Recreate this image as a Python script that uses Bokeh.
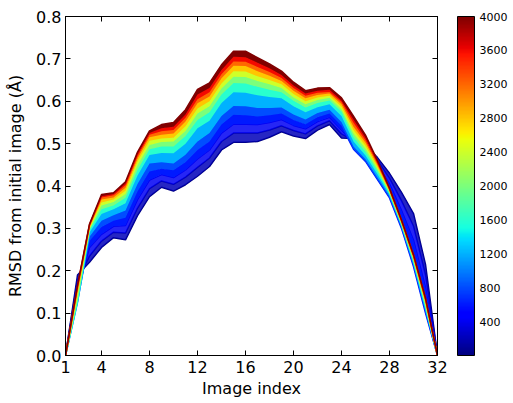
import numpy as np
from bokeh.plotting import figure
from bokeh.models import (Range1d, LinearAxis, FixedTicker, PrintfTickFormatter,
                          ColorBar, LinearColorMapper)
from bokeh.embed import file_html
from bokeh.resources import INLINE

# ---------------- data ----------------
image_index = [1, 2, 3, 4, 5, 6, 7, 8, 9, 10, 11, 12, 13, 14, 15, 16,
               17, 18, 19, 20, 21, 22, 23, 24, 25, 26, 27, 28, 29, 30, 31, 32]

iterations = [10, 200, 400, 600, 800, 1200, 1600, 2000, 2400, 2800, 3200, 3600, 4000]

rmsd_it10 = [0, .190, .220, .255, .278, .273, .330, .375, .397, .388, .403, .423, .446, .485, .503, .503,
             .505, .515, .528, .518, .512, .532, .545, .513, .512, .497, .467, .430, .385, .335, .215, 0]
rmsd_it200 = [0, .178, .235, .270, .291, .289, .348, .394, .412, .404, .421, .444, .466, .505, .525, .525,
              .525, .532, .542, .531, .523, .542, .554, .523, .508, .490, .460, .418, .365, .305, .190, 0]
rmsd_it400 = [0, .155, .255, .286, .305, .307, .368, .414, .427, .420, .438, .464, .485, .525, .546, .546,
              .545, .550, .557, .543, .535, .552, .562, .532, .503, .482, .450, .405, .342, .272, .160, 0]
rmsd_it600 = [0, .140, .270, .303, .318, .325, .387, .434, .441, .437, .456, .485, .505, .545, .568, .567,
              .564, .567, .571, .556, .546, .562, .571, .542, .487, .458, .415, .372, .300, .210, .100, 0]
rmsd_it800 = [0, .128, .280, .318, .331, .342, .405, .453, .456, .453, .474, .505, .525, .565, .589, .588,
              .584, .584, .585, .569, .557, .572, .580, .551, .493, .463, .420, .376, .304, .215, .106, 0]
rmsd_it1200 = [0, .125, .290, .334, .345, .359, .425, .473, .478, .477, .500, .536, .554, .596, .621, .620,
               .614, .610, .607, .588, .574, .586, .593, .565, .505, .472, .428, .380, .308, .220, .112, 0]
rmsd_it1600 = [0, .130, .297, .345, .354, .372, .438, .487, .493, .493, .518, .556, .574, .616, .643, .642,
               .634, .627, .621, .601, .585, .596, .602, .575, .515, .480, .435, .384, .311, .224, .117, 0]
rmsd_it2000 = [0, .140, .300, .354, .362, .381, .449, .497, .504, .505, .530, .571, .588, .630, .658, .657,
               .648, .640, .631, .609, .593, .603, .608, .581, .524, .488, .440, .387, .313, .228, .122, 0]
rmsd_it2400 = [0, .148, .303, .361, .368, .389, .458, .507, .512, .514, .541, .583, .600, .642, .671, .670,
               .659, .650, .640, .617, .600, .609, .613, .587, .532, .495, .445, .389, .315, .231, .126, 0]
rmsd_it2800 = [0, .155, .305, .368, .373, .396, .465, .515, .521, .524, .552, .595, .611, .654, .684, .683,
               .671, .660, .648, .625, .607, .615, .618, .593, .540, .502, .450, .391, .316, .233, .129, 0]
rmsd_it3200 = [0, .160, .307, .373, .378, .402, .471, .521, .529, .532, .561, .605, .621, .664, .694, .693,
               .681, .669, .655, .631, .613, .620, .622, .598, .549, .508, .454, .393, .318, .235, .132, 0]
rmsd_it3600 = [0, .163, .309, .376, .381, .406, .476, .525, .536, .540, .569, .616, .631, .674, .705, .704,
               .691, .678, .662, .637, .618, .625, .627, .602, .557, .514, .457, .394, .319, .237, .134, 0]
rmsd_it4000 = [0, .166, .310, .380, .384, .410, .480, .530, .545, .550, .580, .628, .643, .686, .718, .718,
               .703, .688, .671, .645, .625, .631, .632, .608, .565, .520, .460, .395, .320, .238, .136, 0]

curves = [rmsd_it10, rmsd_it200, rmsd_it400, rmsd_it600, rmsd_it800, rmsd_it1200, rmsd_it1600,
          rmsd_it2000, rmsd_it2400, rmsd_it2800, rmsd_it3200, rmsd_it3600, rmsd_it4000]

x_ticks = [1, 4, 8, 12, 16, 20, 24, 28, 32]
y_ticks = [0.0, 0.1, 0.2, 0.3, 0.4, 0.5, 0.6, 0.7, 0.8]
colorbar_ticks = [400, 800, 1200, 1600, 2000, 2400, 2800, 3200, 3600, 4000]
iter_low, iter_high = 0, 4000


# ---------------- jet colormap ----------------
def jet_hex(v):
    r = np.interp(v, [0, .35, .66, .89, 1], [0, 0, 1, 1, .5])
    g = np.interp(v, [0, .125, .375, .64, .91, 1], [0, 0, 1, 1, 0, 0])
    b = np.interp(v, [0, .11, .34, .65, 1], [.5, 1, 1, 0, 0])
    return "#%02x%02x%02x" % (int(round(r * 255)), int(round(g * 255)), int(round(b * 255)))


palette = [jet_hex(i / 255) for i in range(256)]

FONT = "DejaVu Sans"

p = figure(width=510, height=400, x_range=Range1d(1, 32), y_range=Range1d(0, 0.8),
           output_backend="svg", toolbar_location=None,
           min_border_left=65, min_border_top=16, min_border_bottom=5, min_border_right=2)
p.background_fill_color = "white"
p.border_fill_color = "white"
p.outline_line_color = "black"
p.xgrid.visible = False
p.ygrid.visible = False

prev = None
for k, (it, ys) in enumerate(zip(iterations, curves)):
    c = jet_hex((it - iter_low) / (iter_high - iter_low))
    if prev is not None:
        p.varea(x=image_index, y1=prev, y2=ys, fill_color=c, fill_alpha=0.85 if k <= 2 else 1.0)
    p.line(image_index, ys, line_color=c, line_width=1.5)
    prev = ys

for ax in (p.xaxis[0], p.yaxis[0]):
    ax.major_tick_in = 5
    ax.major_tick_out = 0
    ax.minor_tick_line_color = None
    ax.axis_line_color = "black"
    ax.major_tick_line_color = "black"
    ax.major_label_text_font = FONT
    ax.major_label_text_font_size = "16px"
    ax.major_label_text_color = "black"
    ax.axis_label_text_font = FONT
    ax.axis_label_text_font_size = "16px"
    ax.axis_label_text_font_style = "normal"
    ax.axis_label_text_color = "black"

p.xaxis.ticker = FixedTicker(ticks=x_ticks)
p.yaxis.ticker = FixedTicker(ticks=y_ticks)
p.yaxis.formatter = PrintfTickFormatter(format="%.1f")
p.xaxis.axis_label = "Image index"
p.yaxis.axis_label = "RMSD from initial image (Å)"
p.xaxis.major_label_standoff = 5
p.xaxis.axis_label_standoff = 3
p.yaxis.major_label_standoff = 4
p.yaxis.axis_label_standoff = 8

top_axis = LinearAxis(ticker=FixedTicker(ticks=x_ticks), major_label_text_font_size="1px",
                      major_label_text_color=None,
                      major_tick_in=5, major_tick_out=0, minor_tick_line_color=None,
                      major_label_standoff=0, axis_line_color="black")
p.add_layout(top_axis, "above")
right_axis = LinearAxis(ticker=FixedTicker(ticks=y_ticks), major_label_text_font_size="1px",
                        major_label_text_color=None,
                        major_tick_in=5, major_tick_out=0, minor_tick_line_color=None,
                        major_label_standoff=0, axis_line_color="black")
p.add_layout(right_axis, "right")
# invisible spacer between the frame and the colour bar
spacer_axis = LinearAxis(ticker=FixedTicker(ticks=y_ticks), major_label_text_font_size="1px",
                         major_label_text_color=None, major_tick_in=0, major_tick_out=20,
                         major_tick_line_color=None, minor_tick_line_color=None,
                         major_label_standoff=0, axis_line_color=None)
p.add_layout(spacer_axis, "right")

mapper = LinearColorMapper(palette=palette, low=iter_low, high=iter_high)
cbar = ColorBar(color_mapper=mapper, ticker=FixedTicker(ticks=colorbar_ticks),
                width=17, padding=0, margin=0, label_standoff=5,
                major_label_text_font=FONT, major_label_text_font_size="11px",
                major_label_text_color="black",
                major_tick_line_color=None, minor_tick_line_color=None,
                bar_line_color="black", border_line_color=None,
                background_fill_alpha=0)
p.add_layout(cbar, "right")

open("out.html", "w").write(file_html(p, INLINE))
